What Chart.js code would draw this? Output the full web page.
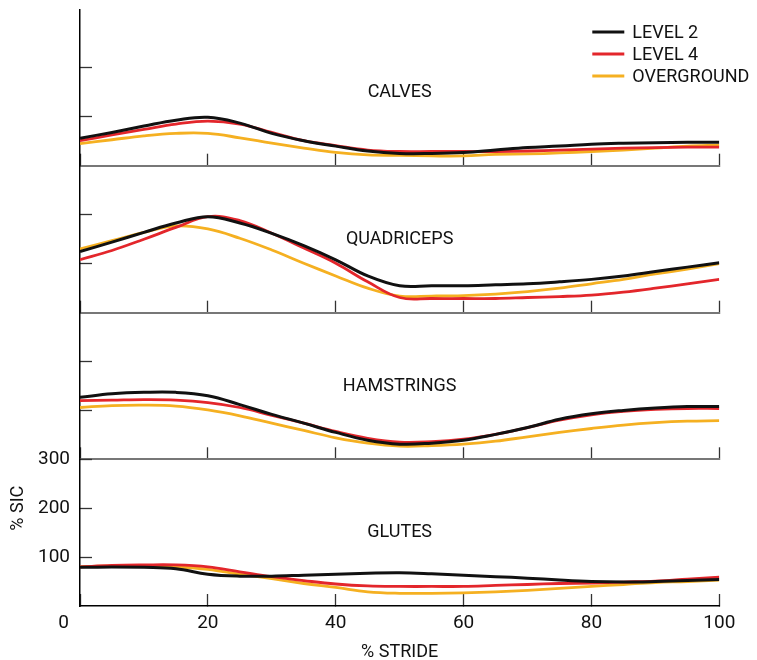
<!DOCTYPE html>
<html>
<head>
<meta charset="utf-8">
<script src="https://cdn.jsdelivr.net/npm/chart.js@4.4.1/dist/chart.umd.min.js"></script>
<style>
  body { margin: 0; background: #fff; }
  #wrap { position: relative; width: 757px; height: 660px; }
  #wrap canvas { position: absolute; left: 0; top: 0; }
</style>
</head>
<body>
<div id="wrap">
  <canvas id="calves" width="757" height="660"></canvas>
  <canvas id="quadriceps" width="757" height="660"></canvas>
  <canvas id="hamstrings" width="757" height="660"></canvas>
  <canvas id="glutes" width="757" height="660"></canvas>
</div>
<script>
// % stride sampled every 5
const stride = [0, 5, 10, 15, 20, 25, 30, 35, 40, 45, 50, 55, 60, 65, 70, 75, 80, 85, 90, 95, 100];
const seriesNames = ['LEVEL 2', 'LEVEL 4', 'OVERGROUND'];
const xTicks = [0, 20, 40, 60, 80, 100];

// % SIC per muscle group
const calvesLevel2     = [56, 68, 81, 93, 99, 87, 66, 51, 40, 30, 25, 25, 27, 32, 37, 40, 44, 46, 47, 48, 48];
const calvesLevel4     = [51, 63, 74, 85, 91, 85, 68, 51, 41, 32, 29, 29, 29, 29, 30, 32, 34, 36, 37, 38, 38];
const calvesOverground = [45, 53, 61, 66, 66, 57, 46, 36, 27, 22, 21, 20, 20, 23, 24, 26, 29, 32, 36, 40, 42];

const quadLevel2     = [125, 144, 164, 183, 196, 183, 162, 137, 108, 75, 55, 55, 55, 57, 59, 63, 68, 75, 84, 93, 102];
const quadLevel4     = [108, 127, 150, 174, 196, 188, 162, 132, 101, 63, 31, 29, 29, 29, 31, 33, 36, 42, 50, 59, 68];
const quadOverground = [130, 147, 164, 177, 171, 152, 128, 101, 75, 50, 34, 34, 35, 38, 43, 50, 59, 68, 79, 89, 100];

const hamLevel2     = [127, 134, 137, 137, 130, 112, 92, 74, 55, 39, 31, 33, 39, 51, 65, 82, 93, 100, 105, 108, 108];
const hamLevel4     = [120, 121, 122, 121, 116, 106, 90, 74, 57, 43, 35, 36, 41, 51, 65, 80, 91, 98, 102, 104, 104];
const hamOverground = [106, 110, 111, 109, 101, 89, 74, 59, 44, 33, 27, 28, 31, 37, 46, 55, 63, 70, 75, 78, 79];

const glutesLevel2     = [79, 80, 79, 76, 65, 61, 61, 63, 65, 67, 68, 66, 63, 60, 57, 53, 50, 49, 50, 52, 54];
const glutesLevel4     = [80, 83, 84, 84, 80, 70, 60, 52, 45, 41, 40, 40, 40, 42, 44, 46, 47, 49, 51, 55, 59];
const glutesOverground = [80, 82, 82, 80, 75, 65, 56, 46, 38, 29, 26, 26, 27, 29, 32, 36, 40, 44, 48, 50, 53];

const colors = ['#111111', '#e3262b', '#f5b021'];
const widths = [3, 2.8, 2.8];
const FONT = 'Roboto, "Noto Sans", sans-serif';

// panel label + legend + shared "0" / y title, drawn on the canvas
const panelText = {
  id: 'panelText',
  afterDraw(chart, args, opts) {
    const { ctx, chartArea } = chart;
    const x = chart.scales.x, y = chart.scales.y;
    ctx.save();
    ctx.fillStyle = '#111';
    ctx.font = '18px ' + FONT;
    ctx.textAlign = 'center';
    ctx.textBaseline = 'middle';
    ctx.fillText(opts.label, x.getPixelForValue(50), y.getPixelForValue(150));

    if (opts.legend) {
      seriesNames.forEach((name, i) => {
        const ly = chartArea.top + 22 + i * 22;
        ctx.strokeStyle = colors[i];
        ctx.lineWidth = widths[i];
        ctx.beginPath();
        ctx.moveTo(chartArea.right - 127, ly);
        ctx.lineTo(chartArea.right - 95, ly);
        ctx.stroke();
        ctx.textAlign = 'left';
        ctx.fillText(name, chartArea.right - 87, ly + 1);
      });
    }

    if (opts.axisNotes) {
      ctx.font = '19px ' + FONT;
      ctx.textAlign = 'right';
      ctx.fillText('0', chartArea.left - 11, chartArea.bottom + 17);
      ctx.font = '18px ' + FONT;
      ctx.translate(18, y.getPixelForValue(200));
      ctx.rotate(-Math.PI / 2);
      ctx.textAlign = 'center';
      ctx.fillText('% SIC', 0, 0);
    }
    ctx.restore();
  }
};

const panels = [
  { id: 'calves', label: 'CALVES', data: [calvesLevel2, calvesLevel4, calvesOverground], top: 10, bottom: 165.7, max: 318, yTicks: [100, 200] },
  { id: 'quadriceps', label: 'QUADRICEPS', data: [quadLevel2, quadLevel4, quadOverground], top: 165.7, bottom: 312.7, max: 300, yTicks: [100, 200] },
  { id: 'hamstrings', label: 'HAMSTRINGS', data: [hamLevel2, hamLevel4, hamOverground], top: 312.7, bottom: 459.3, max: 300, yTicks: [100, 200] },
  { id: 'glutes', label: 'GLUTES', data: [glutesLevel2, glutesLevel4, glutesOverground], top: 459.3, bottom: 606, max: 300, yTicks: [100, 200, 300] }
];

panels.forEach((p, idx) => {
  const last = idx === panels.length - 1;
  const xHeight = last ? 54 : 2;

  new Chart(document.getElementById(p.id), {
    type: 'line',
    data: {
      datasets: p.data.map((values, i) => ({
        label: seriesNames[i],
        data: stride.map((s, j) => ({ x: s, y: values[j] })),
        borderColor: colors[i],
        borderWidth: widths[i],
        pointRadius: 0,
        fill: false,
        tension: 0.4
      }))
    },
    options: {
      responsive: false,
      animation: false,
      events: [],
      layout: {
        padding: { left: 0, right: 37.7, top: p.top, bottom: 660 - p.bottom - xHeight }
      },
      plugins: {
        legend: { display: false },
        tooltip: { enabled: false },
        panelText: { label: p.label, legend: idx === 0, axisNotes: last }
      },
      scales: {
        x: {
          type: 'linear',
          min: 0,
          max: 100,
          afterBuildTicks: (scale) => { scale.ticks = xTicks.map(v => ({ value: v })); },
          afterFit: (scale) => { scale.height = xHeight; },
          ticks: {
            display: last,
            padding: 18,
            color: '#111',
            font: { family: FONT, size: 19 },
            callback: (v) => (v === 0 ? '' : v)
          },
          grid: {
            drawOnChartArea: false,
            tickLength: -12,
            tickColor: '#333',
            tickWidth: 1.3
          },
          border: { color: last ? '#000' : '#777', width: last ? 1.5 : 2 },
          title: {
            display: last,
            text: '% STRIDE',
            color: '#111',
            font: { family: FONT, size: 18 },
            padding: { top: 0, bottom: -3 }
          }
        },
        y: {
          min: 0,
          max: p.max,
          afterBuildTicks: (scale) => { scale.ticks = p.yTicks.map(v => ({ value: v })); },
          afterFit: (scale) => { scale.width = 80; },
          ticks: {
            display: last,
            padding: 22,
            color: '#111',
            font: { family: FONT, size: 19 }
          },
          grid: {
            drawOnChartArea: false,
            tickLength: -12,
            tickColor: '#333',
            tickWidth: 1.3
          },
          border: { color: '#000', width: 1.5 }
        }
      }
    },
    plugins: [panelText]
  });
});
</script>
</body>
</html>
